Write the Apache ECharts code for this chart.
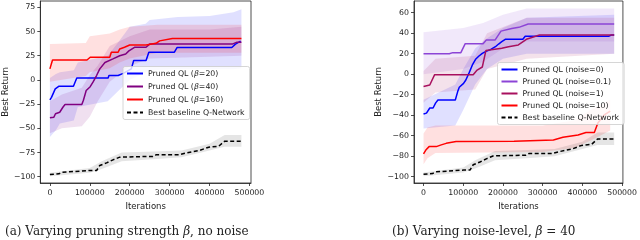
<!DOCTYPE html>
<html><head><meta charset="utf-8">
<script src="https://cdn.jsdelivr.net/npm/echarts@6/dist/echarts.min.js"></script>
<style>html,body{margin:0;padding:0;background:#fff}#c{width:640px;height:240px}</style>
</head><body><div id="c"></div>
<script>
// ---------- tick labels ----------
const xTicks = [0, 100000, 200000, 300000, 400000, 500000];
const yTicksL = [-100, -75, -50, -25, 0, 25, 50, 75];
const yTicksR = [-100, -80, -60, -40, -20, 0, 20, 40, 60];
const captionA = '(a) Varying pruning strength {i|β}, no noise';
const captionB = '(b) Varying noise-level, {i|β} = 40';

// ---------- left panel: varying beta ----------
const b20X = [0, 4000, 13400, 23000, 59000, 67400, 146000, 148000, 171000, 185000, 204000, 210000, 241000, 248000, 312000, 319000, 456000, 465000, 478000];
const b20Y = [-20.6, -18, -9.3, -6.5, -6.5, 2, 2, 4.5, 4.5, 7, 11.4, 20, 20, 28.6, 28.6, 33.5, 33.5, 37, 40];
const b40X = [0, 10000, 14000, 24600, 33000, 38000, 80000, 84000, 91000, 101000, 108000, 117000, 125000, 138000, 158000, 175000, 190000, 198000, 212000, 241000, 250000, 457000, 469000, 480000];
const b40Y = [-39.2, -38.5, -35, -33.4, -28, -25.5, -25.5, -21, -11, -7, -2.4, 4.5, 11.4, 18, 21.7, 25, 26.8, 30, 33.7, 33.7, 37, 37, 39, 39];
const b160X = [0, 6600, 93000, 101000, 150000, 154000, 171000, 175000, 187000, 200000, 241000, 266000, 275000, 307000, 480000];
const b160Y = [11.4, 20.6, 20.6, 23.4, 23.4, 28.6, 28.6, 32, 33.7, 36, 36, 37.8, 40.3, 42.8, 42.8];
const baseX = [0, 22700, 31000, 101000, 117000, 125000, 142000, 158000, 175000, 258000, 266000, 324000, 340000, 374000, 398000, 423000, 438000, 480000];
const baseY = [-97.7, -97, -95.3, -93.6, -93.6, -88.4, -85.7, -82.6, -79.8, -79, -77.4, -77.4, -75.7, -73, -69.5, -68.5, -63.3, -63.3];

// bands (x, lower, upper)
const b20BandX = [0, 15000, 25000, 60000, 70000, 145000, 170000, 200000, 240000, 250000, 320000, 400000, 460000, 480000];
const b20BandLo = [-59, -52, -45, -42, -28, -22, -12, 0, 8, 10, 11, 11, 11, 12];
const b20BandHi = [2, 6, 8, 10, 18, 25, 38, 55, 58, 62, 65, 66, 70, 73];
const b40BandX = [0, 30000, 80000, 100000, 120000, 150000, 200000, 250000, 400000, 480000];
const b40BandLo = [-55, -50, -48, -38, -22, -2, 14, 22, 24, 25];
const b40BandHi = [-22, -15, -8, 5, 15, 35, 45, 52, 52, 55];
const b160BandX = [0, 90000, 100000, 150000, 175000, 200000, 270000, 480000];
const b160BandLo = [-2, 4, 8, 12, 18, 22, 28, 28];
const b160BandHi = [37, 38, 45, 48, 52, 55, 57, 57];
const baseBandX = [0, 100000, 130000, 180000, 260000, 330000, 400000, 438000, 480000];
const baseBandLo = [-99.5, -96, -92, -84, -82, -80, -73, -69, -69];
const baseBandHi = [-96, -91, -84, -75, -74, -73, -66, -57, -57];

// ---------- right panel: varying noise ----------
const n0X = [0, 7400, 15700, 24000, 30600, 36300, 80000, 86000, 90000, 100800, 106500, 115000, 123000, 131000, 139600, 148000, 156000, 168500, 181000, 189000, 197000, 205700, 250000, 256000, 466000, 474000, 480000];
const n0Y = [-38.9, -38, -33, -33, -28, -25.2, -25.2, -17, -12.8, -9, -5.7, 1.5, 9, 14.5, 17.7, 20.3, 22, 24, 26.8, 29.4, 31.7, 34, 34, 37, 37, 38.3, 38.3];
const n01X = [0, 65000, 73500, 94000, 105000, 150000, 158000, 180000, 195000, 222000, 240000, 263500, 480000];
const n01Y = [20, 20, 21, 21, 29.8, 29.8, 33.3, 33.3, 42, 44.5, 45.7, 49, 49];
const n1X = [0, 15700, 28000, 125000, 135000, 148000, 157000, 197000, 214000, 238700, 259000, 292000, 480000];
const n1Y = [-12, -10.6, -0.5, -0.5, 4, 7, 23, 25.2, 26.8, 28.5, 34, 38.2, 38.2];
const n10X = [0, 5800, 14000, 32000, 44600, 57000, 82000, 228000, 327000, 351000, 389000, 409000, 430000, 439000, 455000, 470000];
const n10Y = [-77.9, -74, -70.7, -70.7, -69, -67.5, -65.8, -65.5, -64.2, -61.6, -59.3, -57, -57, -47.6, -39.8, -36];

const n0BandX = [0, 80000, 100000, 130000, 160000, 200000, 260000, 480000];
const n0BandLo = [-53, -50, -35, -10, 5, 15, 20, 20];
const n0BandHi = [-25, -10, 5, 25, 35, 45, 55, 58];
const n01BandX = [0, 100000, 150000, 200000, 260000, 480000];
const n01BandLo = [0, 5, 12, 25, 32, 32];
const n01BandHi = [41, 45, 50, 58, 64, 64];
const n1BandX = [0, 30000, 130000, 160000, 260000, 480000];
const n1BandLo = [-28, -18, -15, 5, 15, 20];
const n1BandHi = [3, 15, 18, 40, 55, 55];
const n10BandX = [0, 10000, 30000, 300000, 380000, 420000, 470000];
const n10BandLo = [-88, -82, -77, -76, -72, -65, -55];
const n10BandHi = [-58, -52, -50, -50, -45, -35, -25];

// ---------- build ----------
const FONT = 'DejaVu Sans';
function pairs(xs, ys) { return xs.map((x, i) => [x, ys[i]]); }
function line(name, idx, xs, ys, color, dashed) {
  return {
    type: 'line', name, xAxisIndex: idx, yAxisIndex: idx, data: pairs(xs, ys),
    symbol: 'none', z: 3, animation: false,
    lineStyle: { color, width: 1.5, type: dashed ? [4, 2.5] : 'solid' },
    itemStyle: { color }
  };
}
function band(idx, xs, lo, hi, fill) {
  return {
    type: 'custom', xAxisIndex: idx, yAxisIndex: idx, silent: true, clip: true, z: 1, animation: false,
    data: [[xs[0], lo[0]]],
    renderItem: function (params, api) {
      const pts = [];
      for (let i = 0; i < xs.length; i++) pts.push(api.coord([xs[i], hi[i]]));
      for (let i = xs.length - 1; i >= 0; i--) pts.push(api.coord([xs[i], lo[i]]));
      return { type: 'polygon', shape: { points: pts }, style: { fill: fill, stroke: null } };
    }
  };
}
const minus = v => (v < 0 ? '\u2212' + (-v) : String(v));
function xAx(idx, max) {
  return {
    type: 'value', gridIndex: idx, min: -24000, max: max,
    name: 'Iterations', nameLocation: 'middle', nameGap: 19,
    nameTextStyle: { fontFamily: FONT, fontSize: 8.5, color: '#222' },
    axisLine: { show: true, onZero: false, lineStyle: { color: '#222', width: 0.8 } },
    axisTick: { show: true, customValues: xTicks, length: 3, lineStyle: { color: '#222', width: 0.8 } },
    axisLabel: { customValues: xTicks, formatter: v => String(v), fontFamily: FONT, fontSize: 7.8, color: '#222', margin: 6 },
    splitLine: { show: false }
  };
}
function yAx(idx, min, max, ticks) {
  return {
    type: 'value', gridIndex: idx, min, max,
    name: 'Best Return', nameLocation: 'middle', nameGap: 30, nameRotate: 90,
    nameTextStyle: { fontFamily: FONT, fontSize: 8.5, color: '#222' },
    axisLine: { show: true, onZero: false, lineStyle: { color: '#222', width: 0.8 } },
    axisTick: { show: true, customValues: ticks, length: 3, lineStyle: { color: '#222', width: 0.8 } },
    axisLabel: { customValues: ticks, formatter: minus, fontFamily: FONT, fontSize: 7.8, color: '#222', margin: 5 },
    splitLine: { show: false }
  };
}
const legendText = { fontFamily: FONT, fontSize: 7.8, color: '#222', lineHeight: 10,
  rich: { i: { fontFamily: FONT, fontStyle: 'italic', fontSize: 7.8, color: '#222' } } };
const legendBase = {
  orient: 'vertical', itemWidth: 16, itemHeight: 8, itemGap: 3,
  backgroundColor: 'rgba(255,255,255,0.8)', borderColor: '#cccccc', borderWidth: 0.8, borderRadius: 2,
  padding: [2, 5, 2, 3], textStyle: legendText, selectedMode: false,
  itemStyle: { opacity: 0 },
  formatter: n => n.replace('β', '{i|β}')
};

const option = {
  animation: false,
  backgroundColor: '#fff',
  grid: [
    { left: 40, right: 389, top: 1, bottom: 57, show: true, borderColor: '#222', borderWidth: 0.8, backgroundColor: 'transparent' },
    { left: 414, right: 14.5, top: 1, bottom: 57, show: true, borderColor: '#222', borderWidth: 0.8, backgroundColor: 'transparent' }
  ],
  xAxis: [xAx(0, 504000), xAx(1, 502000)],
  yAxis: [yAx(0, -106.5, 81.5, yTicksL), yAx(1, -106.2, 71.4, yTicksR)],
  legend: [
    Object.assign({}, legendBase, { left: 123, top: 66.5,
      data: ['Pruned QL (β=20)', 'Pruned QL (β=40)', 'Pruned QL (β=160)', 'Best baseline Q-Network'] }),
    Object.assign({}, legendBase, { left: 497.5, top: 62.5, itemGap: 2,
      data: ['Pruned QL (noise=0)', 'Pruned QL (noise=0.1)', 'Pruned QL (noise=1)', 'Pruned QL (noise=10)', 'Best baseline Q-Network'] })
  ],
  series: [
    band(0, b20BandX, b20BandLo, b20BandHi, 'rgba(0,0,255,0.12)'),
    band(0, b40BandX, b40BandLo, b40BandHi, 'rgba(128,0,128,0.12)'),
    band(0, b160BandX, b160BandLo, b160BandHi, 'rgba(255,0,0,0.12)'),
    band(0, baseBandX, baseBandLo, baseBandHi, 'rgba(0,0,0,0.1)'),
    line('Pruned QL (β=20)', 0, b20X, b20Y, '#0000ff'),
    line('Pruned QL (β=40)', 0, b40X, b40Y, '#800080'),
    line('Pruned QL (β=160)', 0, b160X, b160Y, '#ff0000'),
    line('Best baseline Q-Network', 0, baseX, baseY, '#000000', true),

    band(1, n0BandX, n0BandLo, n0BandHi, 'rgba(0,0,255,0.12)'),
    band(1, n01BandX, n01BandLo, n01BandHi, 'rgba(140,68,214,0.12)'),
    band(1, n1BandX, n1BandLo, n1BandHi, 'rgba(168,16,94,0.12)'),
    band(1, n10BandX, n10BandLo, n10BandHi, 'rgba(255,0,0,0.12)'),
    band(1, baseBandX, baseBandLo, baseBandHi, 'rgba(0,0,0,0.1)'),
    line('Pruned QL (noise=0)', 1, n0X, n0Y, '#0000ff'),
    line('Pruned QL (noise=0.1)', 1, n01X, n01Y, '#8c44d6'),
    line('Pruned QL (noise=1)', 1, n1X, n1Y, '#a8105e'),
    line('Pruned QL (noise=10)', 1, n10X, n10Y, '#ff0000'),
    line('Best baseline Q-Network', 1, baseX, baseY, '#000000', true)
  ],
  graphic: [
    { type: 'text', left: 5, top: 225.5, style: { text: captionA, fontFamily: 'DejaVu Serif', fontSize: 12, fill: '#222',
      rich: { i: { fontFamily: 'DejaVu Serif', fontStyle: 'italic', fontSize: 12, fill: '#222' } } } },
    { type: 'text', left: 392, top: 225.5, style: { text: captionB, fontFamily: 'DejaVu Serif', fontSize: 12, fill: '#222',
      rich: { i: { fontFamily: 'DejaVu Serif', fontStyle: 'italic', fontSize: 12, fill: '#222' } } } }
  ]
};
const chart = echarts.init(document.getElementById('c'), null, { renderer: 'canvas' });
chart.setOption(option);
</script>
</body></html>
